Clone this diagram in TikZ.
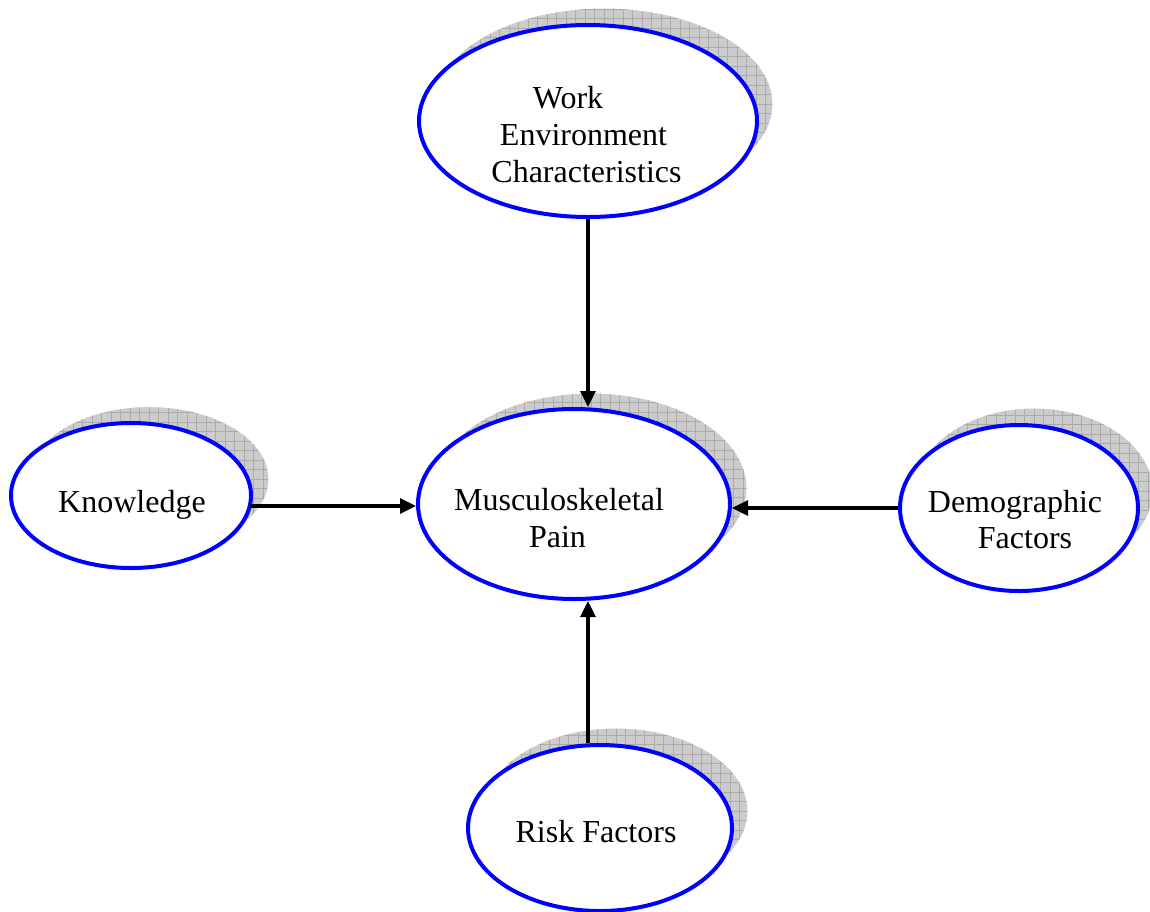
\documentclass[tikz,border=0pt]{standalone}
\usepackage{fontspec}
\setmainfont{Liberation Serif}
\usetikzlibrary{arrows.meta,shapes.geometric}
\tikzset{
  x=0.5pt, y=-0.5pt,
  bubble/.style={ellipse, draw=blue, line width=2pt, fill=white, inner sep=0pt},
  shade/.style={ellipse, draw=white, line width=0.5pt, fill=black!20, inner sep=0pt,
    path picture={\draw[black!33, line width=0.3pt, step=4.75pt]
      (path picture bounding box.south west) grid (path picture bounding box.north east);}},
  lbl/.style={anchor=base, inner sep=0pt, font=\fontsize{16}{18.5}\selectfont},
  link/.style={line width=1.6pt, -{Triangle[length=8pt,width=7.5pt]}},
}
\begin{document}
\begin{tikzpicture}
\useasboundingbox (0,0) rectangle (1150,911);
% shadows
\node[shade, minimum width=169pt, minimum height=96pt] (topS) at (604,104) {};
\node[shade, minimum width=156pt, minimum height=95pt] (midS) at (591,488) {};
\node[shade, minimum width=120pt, minimum height=72.5pt] (knowS) at (149,479) {};
\node[shade, minimum width=119pt, minimum height=83pt] (demoS) at (1034,491) {};
\node[shade, minimum width=132pt, minimum height=83pt] (riskS) at (616,811) {};
% ellipses
\node[bubble, minimum width=169pt, minimum height=96pt] (top) at (588,121) {};
\node[bubble, minimum width=156pt, minimum height=95pt] (mid) at (574,504) {};
\node[bubble, minimum width=120pt, minimum height=72.5pt] (know) at (131,495.5) {};
\node[bubble, minimum width=119pt, minimum height=83pt] (demo) at (1019,508) {};
\node[bubble, minimum width=132pt, minimum height=83pt] (risk) at (600,828) {};
% labels
\node[lbl] (t1) at (568,108) {Work};
\node[lbl] (t2) at (583.5,145) {Environment};
\node[lbl] (t3) at (586.5,182) {Characteristics};
\node[lbl] (m1) at (559,510) {Musculoskeletal};
\node[lbl] (m2) at (557.5,547) {Pain};
\node[lbl] (k1) at (132,512) {Knowledge};
\node[lbl] (d1) at (1015,512) {Demographic};
\node[lbl] (d2) at (1025,548) {Factors};
\node[lbl] (r1) at (596,842) {Risk Factors};
% connectors
\coordinate (kA) at (250,506);
\coordinate (rA) at (top.south |- risk.north);
\draw[link] (top.south) -- (top.south |- mid.north);
\draw[link] (kA) -- (kA -| mid.west);
\draw[link] (demo.west) -- (demo.west -| mid.east);
\draw[link] (rA) -- (rA |- mid.south);
\end{tikzpicture}
\end{document}
